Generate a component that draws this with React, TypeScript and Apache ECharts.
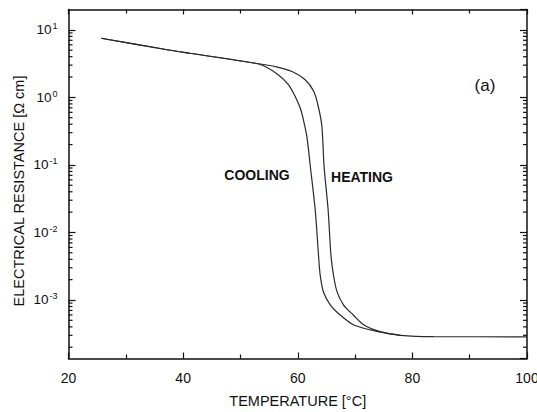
import React, { useEffect, useRef } from "react";
import * as echarts from "echarts";

// Temperature (°C) and electrical resistance (Ω cm)
const heatingT = [25.7, 36.5, 41.2, 52.6, 56.1, 59.0, 61.3, 62.8, 63.6, 64.2, 64.6, 65.3, 65.8, 66.25, 66.85, 68.0, 69.7, 71.5, 74.4, 77.9, 83.7, 100];
const heatingR = [7.5, 5.2, 4.5, 3.2, 2.86, 2.41, 1.82, 1.22, 0.72, 0.38, 0.094, 0.0215, 0.0045, 0.0023, 0.00133, 0.00084, 0.0006, 0.00043, 0.00034, 0.0003, 0.000286, 0.000285];

const coolingT = [25.7, 36.5, 41.2, 52.6, 54.3, 56.65, 58.4, 59.55, 60.45, 61.0, 61.6, 62.2, 63.05, 63.6, 63.9, 64.5, 65.7, 67.4, 69.7, 72.7, 75.6, 77.9];
const coolingR = [7.5, 5.2, 4.5, 3.2, 2.86, 2.15, 1.53, 1.03, 0.69, 0.46, 0.26, 0.094, 0.0215, 0.0049, 0.0024, 0.0013, 0.00084, 0.0006, 0.00043, 0.00036, 0.00032, 0.0003];

const xTicks = [20, 40, 60, 80, 100];
const yMin = 1.36e-4;
const yMax = 20;
const decades = [1e-4, 1e-3, 1e-2, 1e-1, 1, 10];
const minorMultipliers = [2, 3, 4, 5, 6, 7, 8, 9];

const FONT = "'Liberation Sans', Arial, Helvetica, sans-serif";
const INK = "#111";

export default function App() {
  const ref = useRef<HTMLDivElement>(null);
  useEffect(() => {
    document.body.style.margin = "0";
    if (!ref.current) return;
    const chart = echarts.init(ref.current, null, { renderer: "svg" });

    const minorVals: number[][] = [];
    decades.forEach((d) =>
      minorMultipliers.forEach((m) => {
        const v = d * m;
        if (v > yMin && v < yMax) minorVals.push([xTicks[0], v]);
      })
    );

    const supLabel = (v: number) => {
      const e = Math.log10(v);
      const r = Math.round(e);
      if (Math.abs(e - r) > 1e-6) return "";
      return `{b|10}{s|${r}}`;
    };

    const axisLineStyle = { color: INK, width: 1.5 };
    const yBase = {
      type: "log",
      logBase: 10,
      min: yMin,
      max: yMax,
      axisLine: { show: true, onZero: false, lineStyle: axisLineStyle },
      axisTick: { show: true, inside: true, length: 7, lineStyle: { color: INK, width: 1.2 } },
      splitLine: { show: false },
    };
    const xBase = {
      type: "value",
      min: xTicks[0],
      max: xTicks[xTicks.length - 1],
      interval: 20,
      axisLine: { show: true, onZero: false, lineStyle: axisLineStyle },
      minorTick: { show: true, splitNumber: 2, length: 4, lineStyle: { color: INK, width: 1.2 } },
      splitLine: { show: false },
    };

    chart.setOption({
      animation: false,
      backgroundColor: "#fff",
      grid: { left: 68.5, right: 10, top: 9.5, bottom: 53.5, containLabel: false, outerBoundsMode: "none" },
      xAxis: [
        {
          ...xBase,
          position: "bottom",
          name: "TEMPERATURE [°C]",
          nameLocation: "middle",
          nameGap: 35,
          nameTextStyle: { fontFamily: FONT, fontSize: 14.5, color: INK },
          axisTick: { show: true, inside: true, length: 6, lineStyle: { color: INK, width: 1.2 } },
          axisLabel: { fontFamily: FONT, fontSize: 14, color: INK, margin: 12 },
        },
        {
          ...xBase,
          position: "top",
          axisTick: { show: true, inside: true, length: 5, lineStyle: { color: INK, width: 1.2 } },
          axisLabel: { show: false },
        },
      ],
      yAxis: [
        {
          ...yBase,
          position: "left",
          axisLabel: {
            fontFamily: FONT,
            color: INK,
            margin: 11,
            showMinLabel: false,
            showMaxLabel: false,
            formatter: supLabel,
            rich: {
              b: { fontFamily: FONT, fontSize: 13.5, color: INK, lineHeight: 16 },
              s: { fontFamily: FONT, fontSize: 9, color: INK, lineHeight: 16, verticalAlign: "top", padding: [0, 0, 6, 1] },
            },
          },
        },
        {
          ...yBase,
          position: "right",
          axisLabel: { show: false },
        },
      ],
      series: [
        {
          name: "HEATING",
          type: "line",
          xAxisIndex: 0,
          yAxisIndex: 0,
          data: heatingT.map((t, i) => [t, heatingR[i]]),
          showSymbol: false,
          smooth: 0.3,
          lineStyle: { color: "#2a2a2a", width: 1.2 },
        },
        {
          name: "COOLING",
          type: "line",
          xAxisIndex: 0,
          yAxisIndex: 0,
          data: coolingT.map((t, i) => [t, coolingR[i]]),
          showSymbol: false,
          smooth: 0.3,
          lineStyle: { color: "#2a2a2a", width: 1.2 },
        },
        {
          type: "custom",
          xAxisIndex: 0,
          yAxisIndex: 0,
          silent: true,
          clip: false,
          data: minorVals,
          renderItem: (params: any, api: any) => {
            const v = api.value(1);
            const pl = api.coord([xTicks[0], v]);
            const pr = api.coord([xTicks[xTicks.length - 1], v]);
            const st = { stroke: INK, lineWidth: 1.2 };
            return {
              type: "group",
              children: [
                { type: "line", shape: { x1: pl[0], y1: pl[1], x2: pl[0] + 4, y2: pl[1] }, style: st },
                { type: "line", shape: { x1: pr[0] - 4, y1: pr[1], x2: pr[0], y2: pr[1] }, style: st },
              ],
            };
          },
        },
      ],
      graphic: [
        {
          type: "text",
          x: 19,
          y: 191,
          rotation: Math.PI / 2,
          style: {
            text: "ELECTRICAL RESISTANCE [Ω cm]",
            fontFamily: FONT,
            fontSize: 14.5,
            fill: INK,
            align: "center",
            verticalAlign: "middle",
          },
        },
        {
          type: "text",
          x: 257,
          y: 175,
          style: { text: "COOLING", fontFamily: FONT, fontSize: 14, fontWeight: "bold", fill: INK, align: "center", verticalAlign: "middle" },
        },
        {
          type: "text",
          x: 362,
          y: 177,
          style: { text: "HEATING", fontFamily: FONT, fontSize: 14, fontWeight: "bold", fill: INK, align: "center", verticalAlign: "middle" },
        },
        {
          type: "text",
          x: 485,
          y: 85,
          style: { text: "(a)", fontFamily: FONT, fontSize: 17, fill: INK, align: "center", verticalAlign: "middle" },
        },
      ],
    });
    return () => chart.dispose();
  }, []);
  return <div ref={ref} style={{ position: "absolute", left: 0, top: 0, width: 537, height: 412 }} />;
}
